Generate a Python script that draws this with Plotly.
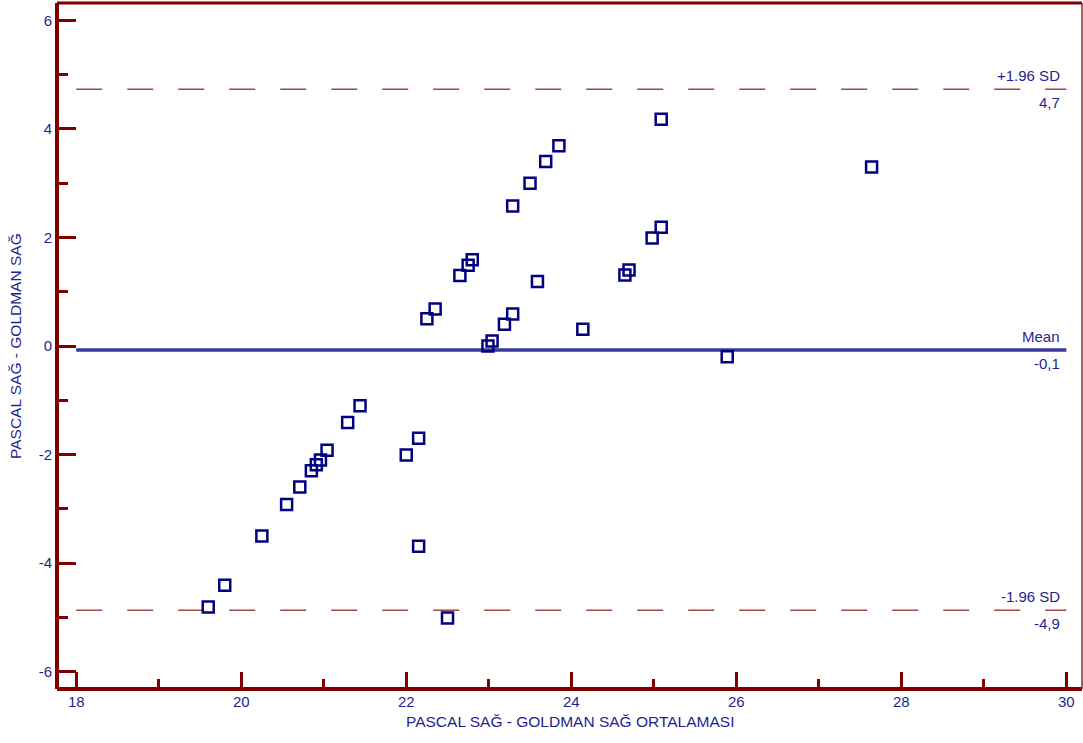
import plotly.graph_objects as go

# --- data ---
avg_x = [19.60, 19.80, 20.25, 20.55, 20.71, 20.85, 20.91, 20.96, 21.04, 21.29,
         21.44, 22.00, 22.15, 22.15, 22.50, 22.25, 22.35, 22.65, 22.75, 22.80,
         22.99, 23.04, 23.19, 23.29, 23.29, 23.50, 23.69, 23.85, 23.59, 24.14,
         24.65, 24.70, 24.98, 25.09, 25.09, 25.89, 27.64]
diff_y = [-4.81, -4.41, -3.50, -2.92, -2.60, -2.30, -2.19, -2.10, -1.92, -1.41,
          -1.10, -2.01, -1.70, -3.69, -5.01, 0.50, 0.68, 1.30, 1.49, 1.59,
          0.00, 0.09, 0.40, 0.59, 2.58, 3.00, 3.40, 3.69, 1.19, 0.31,
          1.31, 1.40, 1.99, 2.19, 4.18, -0.20, 3.30]

mean_diff = -0.074
upper_loa = 4.73
lower_loa = -4.87
line_x = [18, 30]

x_ticks = [18, 20, 22, 24, 26, 28, 30]
x_tick_labels = ["18", "20", "22", "24", "26", "28", "30"]
y_ticks = [-6, -4, -2, 0, 2, 4, 6]
y_tick_labels = ["-6", "-4", "-2", "0", "2", "4", "6"]

mean_labels = ["Mean", "-0,1"]
upper_labels = ["+1.96 SD", "4,7"]
lower_labels = ["-1.96 SD", "-4,9"]

x_title = "PASCAL SAĞ - GOLDMAN SAĞ ORTALAMASI"
y_title = "PASCAL SAĞ - GOLDMAN SAĞ"

# --- styles ---
FONT = "Liberation Sans, Arial, sans-serif"
TXT = "#1f1f8f"
AXC = "#800000"
DASHC = "#a04848"
MEANC = "#3a3a9c"
PTC = "#000080"

fig = go.Figure()

# reference lines
fig.add_trace(go.Scatter(x=line_x, y=[upper_loa, upper_loa], mode="lines",
                         line=dict(color=DASHC, width=1.5, dash="26px,25px"),
                         hoverinfo="skip", showlegend=False))
fig.add_trace(go.Scatter(x=line_x, y=[lower_loa, lower_loa], mode="lines",
                         line=dict(color=DASHC, width=1.5, dash="26px,25px"),
                         hoverinfo="skip", showlegend=False))
fig.add_trace(go.Scatter(x=line_x, y=[mean_diff, mean_diff], mode="lines",
                         line=dict(color=MEANC, width=3.5),
                         hoverinfo="skip", showlegend=False))

# points
fig.add_trace(go.Scatter(x=avg_x, y=diff_y, mode="markers",
                         marker=dict(symbol="square-open", size=11, color=PTC,
                                     line=dict(color=PTC, width=2.5)),
                         showlegend=False))

# labels near lines
for yv, labs in [(upper_loa, upper_labels), (mean_diff, mean_labels), (lower_loa, lower_labels)]:
    fig.add_annotation(x=line_x[1], y=yv, text=labs[0], showarrow=False,
                       xanchor="right", yanchor="middle", xshift=-4, yshift=14,
                       font=dict(family=FONT, size=15, color=TXT))
    fig.add_annotation(x=line_x[1], y=yv, text=labs[1], showarrow=False,
                       xanchor="right", yanchor="middle", xshift=-4, yshift=-13,
                       font=dict(family=FONT, size=15, color=TXT))

# axis titles
fig.add_annotation(xref="paper", yref="paper", x=0.5, y=-0.048, text=x_title,
                   showarrow=False, xanchor="center", yanchor="middle",
                   font=dict(family=FONT, size=15.5, color=TXT))
fig.add_annotation(xref="paper", yref="paper", x=-0.041, y=0.5, text=y_title,
                   showarrow=False, xanchor="center", yanchor="middle", textangle=-90,
                   font=dict(family=FONT, size=15.5, color=TXT))

# frame
fig.add_shape(type="line", xref="paper", yref="paper", x0=0, x1=0, y0=0, y1=1,
              line=dict(color=AXC, width=4))
fig.add_shape(type="line", xref="paper", yref="paper", x0=0, x1=1, y0=0, y1=0,
              line=dict(color=AXC, width=4))
fig.add_shape(type="line", xref="paper", yref="paper", x0=0, x1=1, y0=1, y1=1,
              line=dict(color=AXC, width=3))
fig.add_shape(type="line", xref="paper", yref="paper", x0=1, x1=1, y0=0, y1=1,
              line=dict(color="#8b2a2a", width=1.5))

fig.update_xaxes(range=[17.767, 30.19], tickmode="array", tickvals=x_ticks,
                 ticktext=x_tick_labels, ticks="inside", ticklen=17,
                 tickwidth=2.5, tickcolor=AXC, showgrid=False, zeroline=False,
                 showline=False, ticklabelstandoff=2,
                 minor=dict(dtick=1, tick0=18, ticks="inside", ticklen=10, tickwidth=2.5,
                            tickcolor=AXC, showgrid=False),
                 tickfont=dict(family=FONT, size=15, color=TXT))
fig.update_yaxes(range=[-6.32, 6.32], tickmode="array", tickvals=y_ticks,
                 ticktext=y_tick_labels, ticks="inside", ticklen=19,
                 tickwidth=2.5, tickcolor=AXC, showgrid=False, zeroline=False,
                 showline=False, ticklabelstandoff=4,
                 minor=dict(dtick=1, tick0=0, ticks="inside", ticklen=11, tickwidth=2.5,
                            tickcolor=AXC, showgrid=False),
                 tickfont=dict(family=FONT, size=15, color=TXT))

fig.update_layout(width=1083, height=743,
                  margin=dict(l=57, r=1, t=3, b=54),
                  plot_bgcolor="white", paper_bgcolor="white",
                  showlegend=False)

fig.write_html("out.html")
